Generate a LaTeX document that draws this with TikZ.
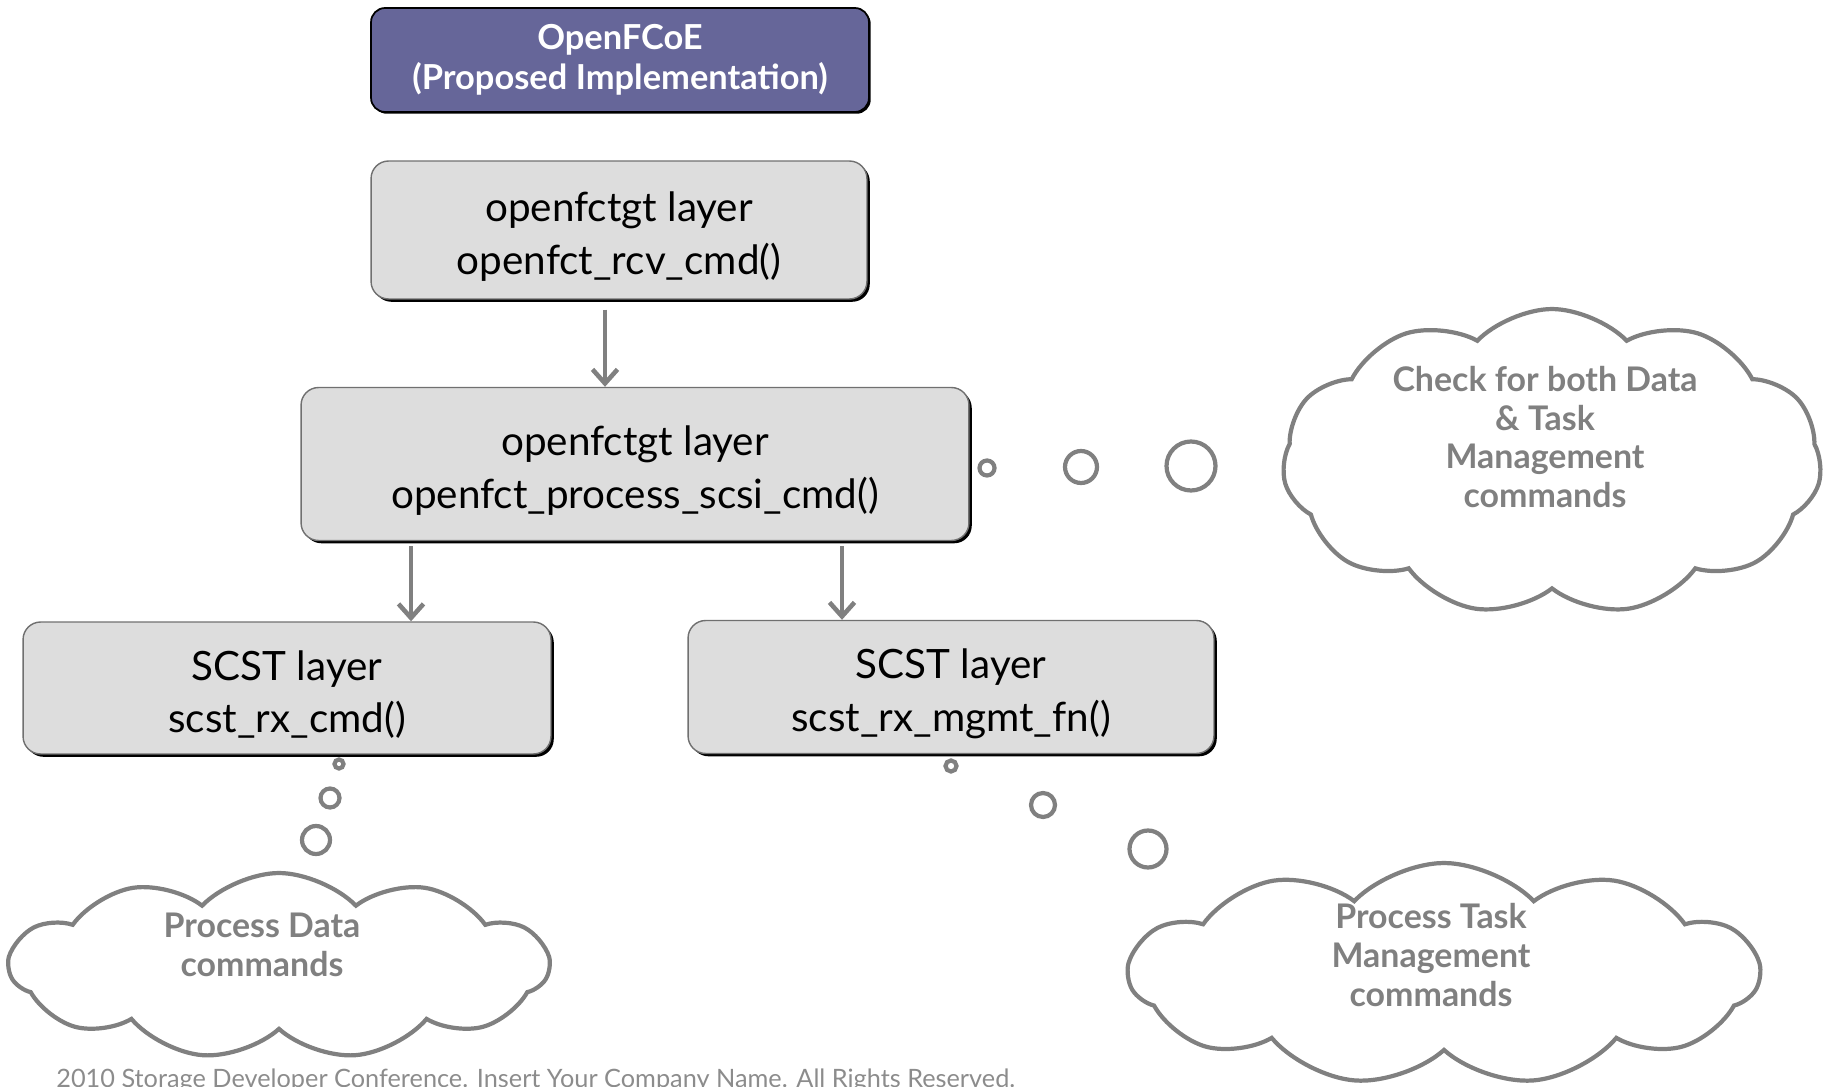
\documentclass[tikz,border=0pt]{standalone}
\usepackage{fontspec}
\setmainfont{Lato}
\usetikzlibrary{positioning,arrows.meta,shapes.symbols,shadows,calc}
\definecolor{ocPurple}{HTML}{666699}
\definecolor{ocGray}{HTML}{808080}
\definecolor{ocFill}{HTML}{DDDDDD}
\definecolor{ocEdge}{HTML}{707070}
\definecolor{ocFoot}{HTML}{8C8C8C}

\begin{document}
\begin{tikzpicture}[
  x=0.02cm, y=-0.02cm,
  caja/.style={rounded corners=10pt, align=center, inner sep=2pt},
  capa/.style={caja, fill=ocFill, draw=ocEdge, line width=0.8pt,
      font=\fontsize{23}{30}\selectfont,
      drop shadow={shadow xshift=1.6pt, shadow yshift=-1.6pt, fill=black, opacity=1}},
  titulo/.style={caja, rounded corners=8pt, fill=ocPurple, draw=black, line width=1pt, text=white,
      font=\bfseries\fontsize{19.6}{23}\selectfont,
      drop shadow={shadow xshift=1pt, shadow yshift=-1pt, fill=black, opacity=1}},
  flecha/.style={-{Straight Barb[length=2.8mm,width=5mm]}, line width=2.6pt, draw=ocGray},
  burbuja/.style={circle, draw=ocGray, line width=2.4pt, inner sep=0pt},
  nube/.style={cloud, cloud puffs=11, cloud puff arc=92, aspect=1.8, draw=ocGray, line width=2.4pt, inner sep=0pt},
  nubetxt/.style={text=ocGray, align=center, font=\bfseries\fontsize{19.3}{22}\selectfont},
]
\clip (0,0) rectangle (1829,1087);

% ---- Cabecera ----
\node[titulo, minimum width=9.96cm, minimum height=2.08cm] (tit) at (620,60)
     {OpenFCoE\\(Proposed Implementation)};

% ---- Capas ----
\node[capa, minimum width=9.92cm, minimum height=2.76cm] (rcv) at (619,230)
     {\rule{0pt}{2.1ex}openfctgt layer\\openfct\_rcv\_cmd()};
\node[capa, minimum width=13.36cm, minimum height=3.06cm] (proc) at (635,464)
     {\rule{0pt}{2.1ex}openfctgt layer\\openfct\_process\_scsi\_cmd()};
\node[capa, minimum width=10.56cm, minimum height=2.64cm] (scdat) at (287,688)
     {\rule{0pt}{2.1ex}SCST layer\\scst\_rx\_cmd()};
\node[capa, minimum width=10.52cm, minimum height=2.66cm] (scmgt) at (951,687)
     {\rule{0pt}{2.1ex}SCST layer\\scst\_rx\_mgmt\_fn()};

% ---- Flechas ----
\draw[flecha] ($(rcv.south)+(-14,10)$)   -- ($(proc.north)+(-30,0)$);
\draw[flecha] ($(proc.south)+(-224,5)$)  -- ($(scdat.north)+(124,0)$);
\draw[flecha] ($(proc.south)+(207,5)$)   -- ($(scmgt.north)+(-109,0)$);

% ---- Burbujas ----
\node[burbuja, minimum size=0.30cm] (br1) at (987,468) {};
\node[burbuja, minimum size=0.64cm] (br2) at (1081,467) {};
\node[burbuja, minimum size=0.98cm] (br3) at (1191,466) {};

\node[burbuja, minimum size=0.18cm] (bd1) at (339,764) {};
\node[burbuja, minimum size=0.38cm] (bd2) at (330,798) {};
\node[burbuja, minimum size=0.56cm] (bd3) at (316,840) {};

\node[burbuja, minimum size=0.22cm] (bm1) at (951,766) {};
\node[burbuja, minimum size=0.48cm] (bm2) at (1043,805) {};
\node[burbuja, minimum size=0.74cm] (bm3) at (1148,849) {};

% ---- Nubes ----
\node[nube, minimum width=10.78cm, minimum height=6.12cm] (nchk) at (1552,462) {};
\node[nubetxt] (tchk) at (1545,437) {Check for both Data\\\& Task\\Management\\commands};

\node[nube, minimum width=10.78cm, minimum height=3.72cm] (ndat) at (279,966) {};
\node[nubetxt] (tdat) at (262,945) {Process Data\\commands};

\node[nube, minimum width=12.6cm, minimum height=4.44cm] (nmgt) at (1444,974) {};
\node[nubetxt] (tmgt) at (1431,955) {Process Task\\Management\\commands};

% ---- Pie ----
\node[anchor=north west, inner sep=0pt, text=ocFoot, font=\fontsize{14.4}{17}\selectfont] (pie) at (56,1069)
     {2010 Storage Developer Conference. Insert Your Company Name. All Rights Reserved.};

\end{tikzpicture}
\end{document}
